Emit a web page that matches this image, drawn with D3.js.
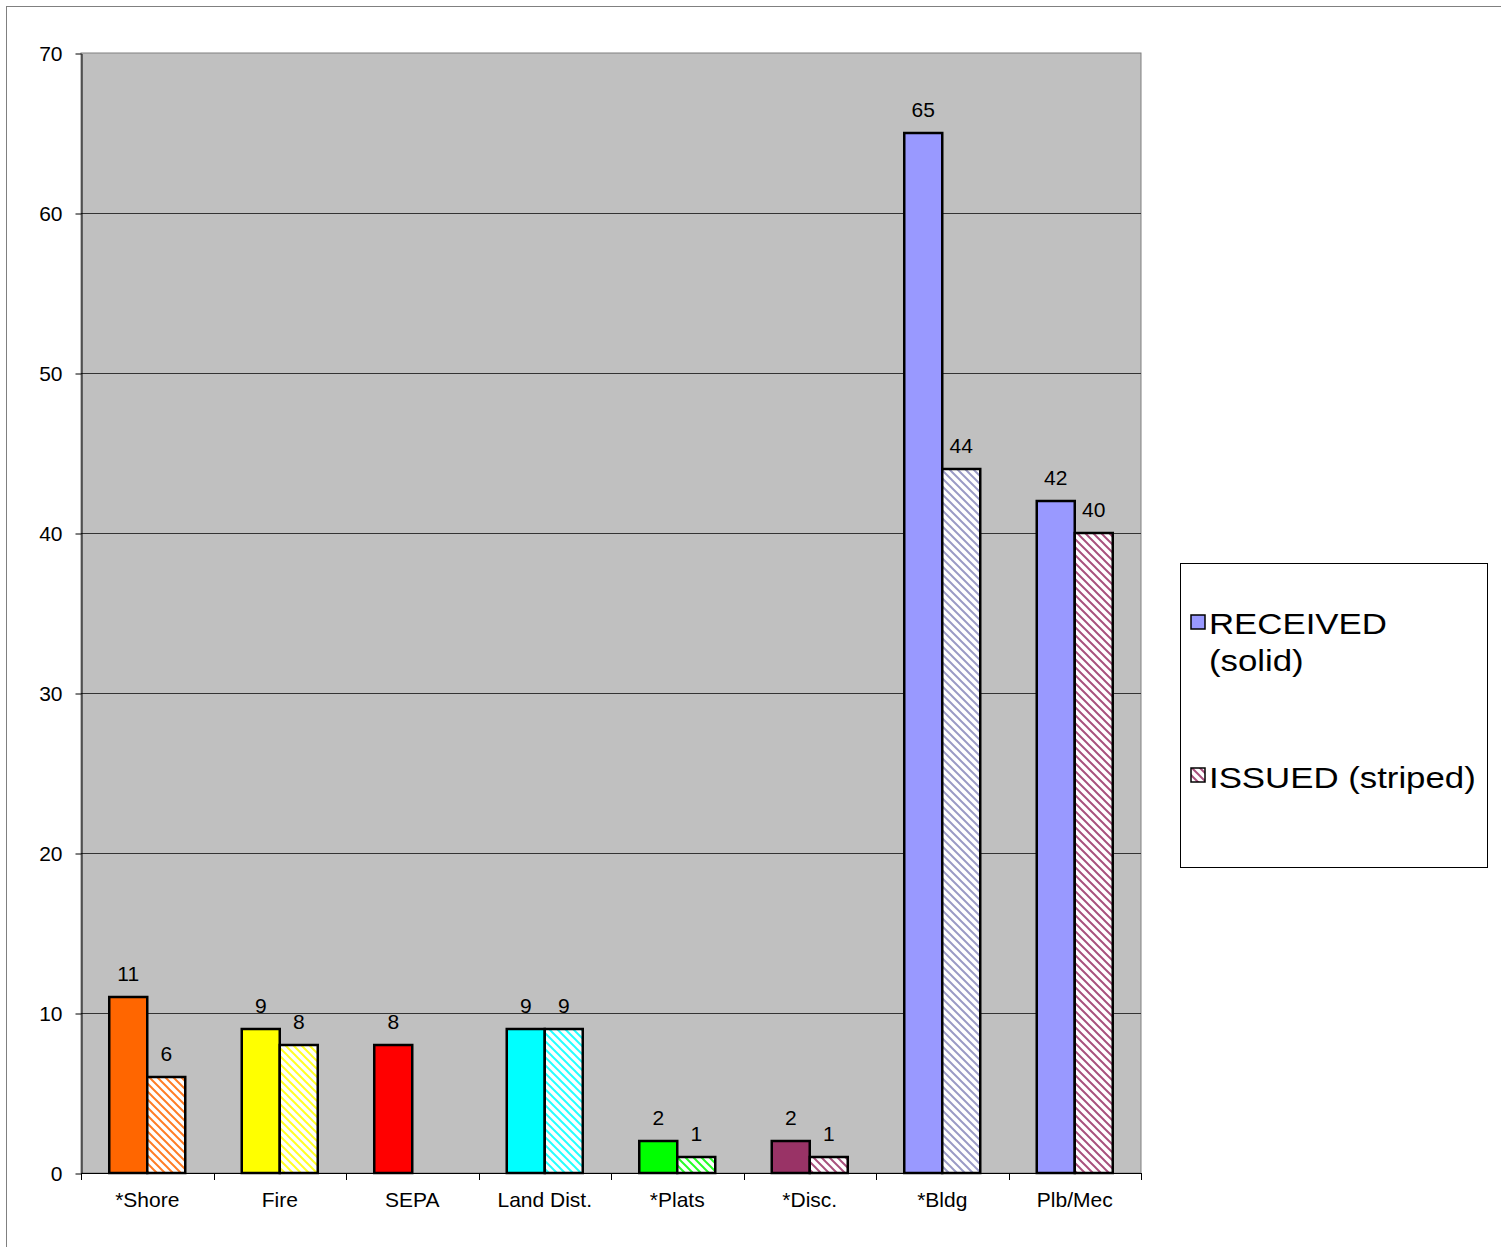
<!DOCTYPE html>
<html>
<head>
<meta charset="utf-8">
<script src="https://cdn.jsdelivr.net/npm/d3@7"></script>
<style>
  body { margin: 0; background: #fff; }
  text { font-family: "Liberation Sans", Arial, sans-serif; fill: #000; }
</style>
</head>
<body>
<script>
var categories = ["*Shore", "Fire", "SEPA", "Land Dist.", "*Plats", "*Disc.", "*Bldg", "Plb/Mec"];
var received = [11, 9, 8, 9, 2, 2, 65, 42];
var issued = [6, 8, 0, 9, 1, 1, 44, 40];
var solidColors = ["#FF6600", "#FFFF00", "#FF0000", "#00FFFF", "#00FF00", "#993366", "#9999FF", "#9999FF"];
var stripeColors = ["#FF6600", "#FFFF00", "#FF0000", "#00FFFF", "#00FF00", "#993366", "#8888BB", "#993366"];
var yTicks = [0, 10, 20, 30, 40, 50, 60, 70];

var svg = d3.select("body").append("svg")
    .attr("width", 1501)
    .attr("height", 1247);

// stripe patterns, one per category
var defs = svg.append("defs");
function makePattern(id, color) {
    var p = defs.append("pattern")
        .attr("id", id)
        .attr("patternUnits", "userSpaceOnUse")
        .attr("width", 8)
        .attr("height", 8);
    p.append("rect").attr("width", 8).attr("height", 8).attr("fill", "#fff");
    p.append("path")
        .attr("d", "M-2,-2 L10,10 M-2,6 L2,10 M6,-2 L10,2")
        .attr("stroke", color)
        .attr("stroke-opacity", 0.85)
        .attr("stroke-width", 2);
}
stripeColors.forEach(function(c, i) { makePattern("stripe" + i, c); });
makePattern("stripeLegend", "#993366");

// outer chart border
svg.append("rect")
    .attr("x", 6.5).attr("y", 6.5)
    .attr("width", 1500).attr("height", 1250)
    .attr("fill", "none")
    .attr("stroke", "#808080");

var plotLeft = 81, plotRight = 1141, plotTop = 53, plotBottom = 1173;

var x = d3.scaleBand()
    .domain(categories)
    .range([plotLeft, plotRight])
    .paddingInner(0.4264)
    .paddingOuter(0.2132);

var y = d3.scaleLinear()
    .domain([0, 70])
    .range([plotBottom, plotTop]);

// plot area
svg.append("rect")
    .attr("x", plotLeft).attr("y", plotTop)
    .attr("width", plotRight - plotLeft).attr("height", plotBottom - plotTop)
    .attr("fill", "#C0C0C0")
    .attr("stroke", "#808080");

// gridlines
svg.selectAll(".grid")
    .data(yTicks.slice(1, -1))
    .enter().append("line")
    .attr("x1", plotLeft).attr("x2", plotRight)
    .attr("y1", function(d) { return Math.round(y(d)) + 0.5; })
    .attr("y2", function(d) { return Math.round(y(d)) + 0.5; })
    .attr("stroke", "#333")
    .attr("stroke-width", 1);

// y axis
var yAxis = d3.axisLeft(y)
    .tickValues(yTicks)
    .tickSize(6)
    .tickPadding(13)
    .tickSizeOuter(0);
var gy = svg.append("g")
    .attr("transform", "translate(" + (plotLeft + 0.5) + ",0.5)")
    .call(yAxis);
gy.selectAll("text").style("font-size", "21px").style("font-family", "Liberation Sans, Arial, sans-serif").attr("fill", "#000");
gy.selectAll("line, path").attr("stroke", "#000");

// x axis: tick marks at group boundaries
var step = x.step();
var bounds = d3.range(categories.length + 1).map(function(i) { return plotLeft + i * step; });
svg.append("line")
    .attr("x1", plotLeft).attr("x2", plotRight)
    .attr("y1", plotBottom + 0.5).attr("y2", plotBottom + 0.5)
    .attr("stroke", "#000");
svg.selectAll(".xtick")
    .data(bounds)
    .enter().append("line")
    .attr("x1", function(d) { return Math.round(d) + 0.5; })
    .attr("x2", function(d) { return Math.round(d) + 0.5; })
    .attr("y1", plotBottom).attr("y2", plotBottom + 7)
    .attr("stroke", "#000");
svg.selectAll(".xlabel")
    .data(categories)
    .enter().append("text")
    .attr("x", function(d) { return x(d) + x.bandwidth() / 2; })
    .attr("y", plotBottom + 34)
    .attr("text-anchor", "middle")
    .style("font-size", "21px")
    .text(function(d) { return d; });

var bw = x.bandwidth() / 2;

// received bars (solid)
svg.selectAll(".rec")
    .data(received)
    .enter().append("rect")
    .attr("x", function(d, i) { return x(categories[i]); })
    .attr("y", function(d) { return y(d); })
    .attr("width", bw)
    .attr("height", function(d) { return plotBottom - y(d); })
    .attr("fill", function(d, i) { return solidColors[i]; })
    .attr("stroke", "#000")
    .attr("stroke-width", 2.5);

// issued bars (striped)
svg.selectAll(".iss")
    .data(issued)
    .enter().append("rect")
    .attr("display", function(d) { return d > 0 ? null : "none"; })
    .attr("x", function(d, i) { return x(categories[i]) + bw; })
    .attr("y", function(d) { return y(d); })
    .attr("width", bw)
    .attr("height", function(d) { return plotBottom - y(d); })
    .attr("fill", function(d, i) { return "url(#stripe" + i + ")"; })
    .attr("stroke", "#000")
    .attr("stroke-width", 2.5);

// data labels
svg.selectAll(".recLabel")
    .data(received)
    .enter().append("text")
    .attr("x", function(d, i) { return x(categories[i]) + bw / 2; })
    .attr("y", function(d) { return y(d) - 16; })
    .attr("text-anchor", "middle")
    .style("font-size", "21px")
    .text(function(d) { return d; });

svg.selectAll(".issLabel")
    .data(issued)
    .enter().append("text")
    .attr("x", function(d, i) { return x(categories[i]) + bw * 1.5; })
    .attr("y", function(d) { return y(d) - 16; })
    .attr("text-anchor", "middle")
    .style("font-size", "21px")
    .text(function(d) { return d > 0 ? d : ""; });

// legend
var lg = svg.append("g");
lg.append("rect")
    .attr("x", 1180.5).attr("y", 563.5)
    .attr("width", 307).attr("height", 304)
    .attr("fill", "#fff")
    .attr("stroke", "#000");
lg.append("rect")
    .attr("x", 1191).attr("y", 615)
    .attr("width", 14).attr("height", 14)
    .attr("fill", "#9999FF")
    .attr("stroke", "#000")
    .attr("stroke-width", 1.5);
lg.append("rect")
    .attr("x", 1191).attr("y", 768)
    .attr("width", 14).attr("height", 14)
    .attr("fill", "url(#stripeLegend)")
    .attr("stroke", "#000")
    .attr("stroke-width", 1.5);
var legendLines = [["RECEIVED", 634], ["(solid)", 671], ["ISSUED (striped)", 788]];
lg.selectAll(".ltext")
    .data(legendLines)
    .enter().append("text")
    .attr("transform", function(d) { return "translate(1209," + d[1] + ") scale(1.2,1)"; })
    .style("font-size", "29px")
    .text(function(d) { return d[0]; });
</script>
</body>
</html>
